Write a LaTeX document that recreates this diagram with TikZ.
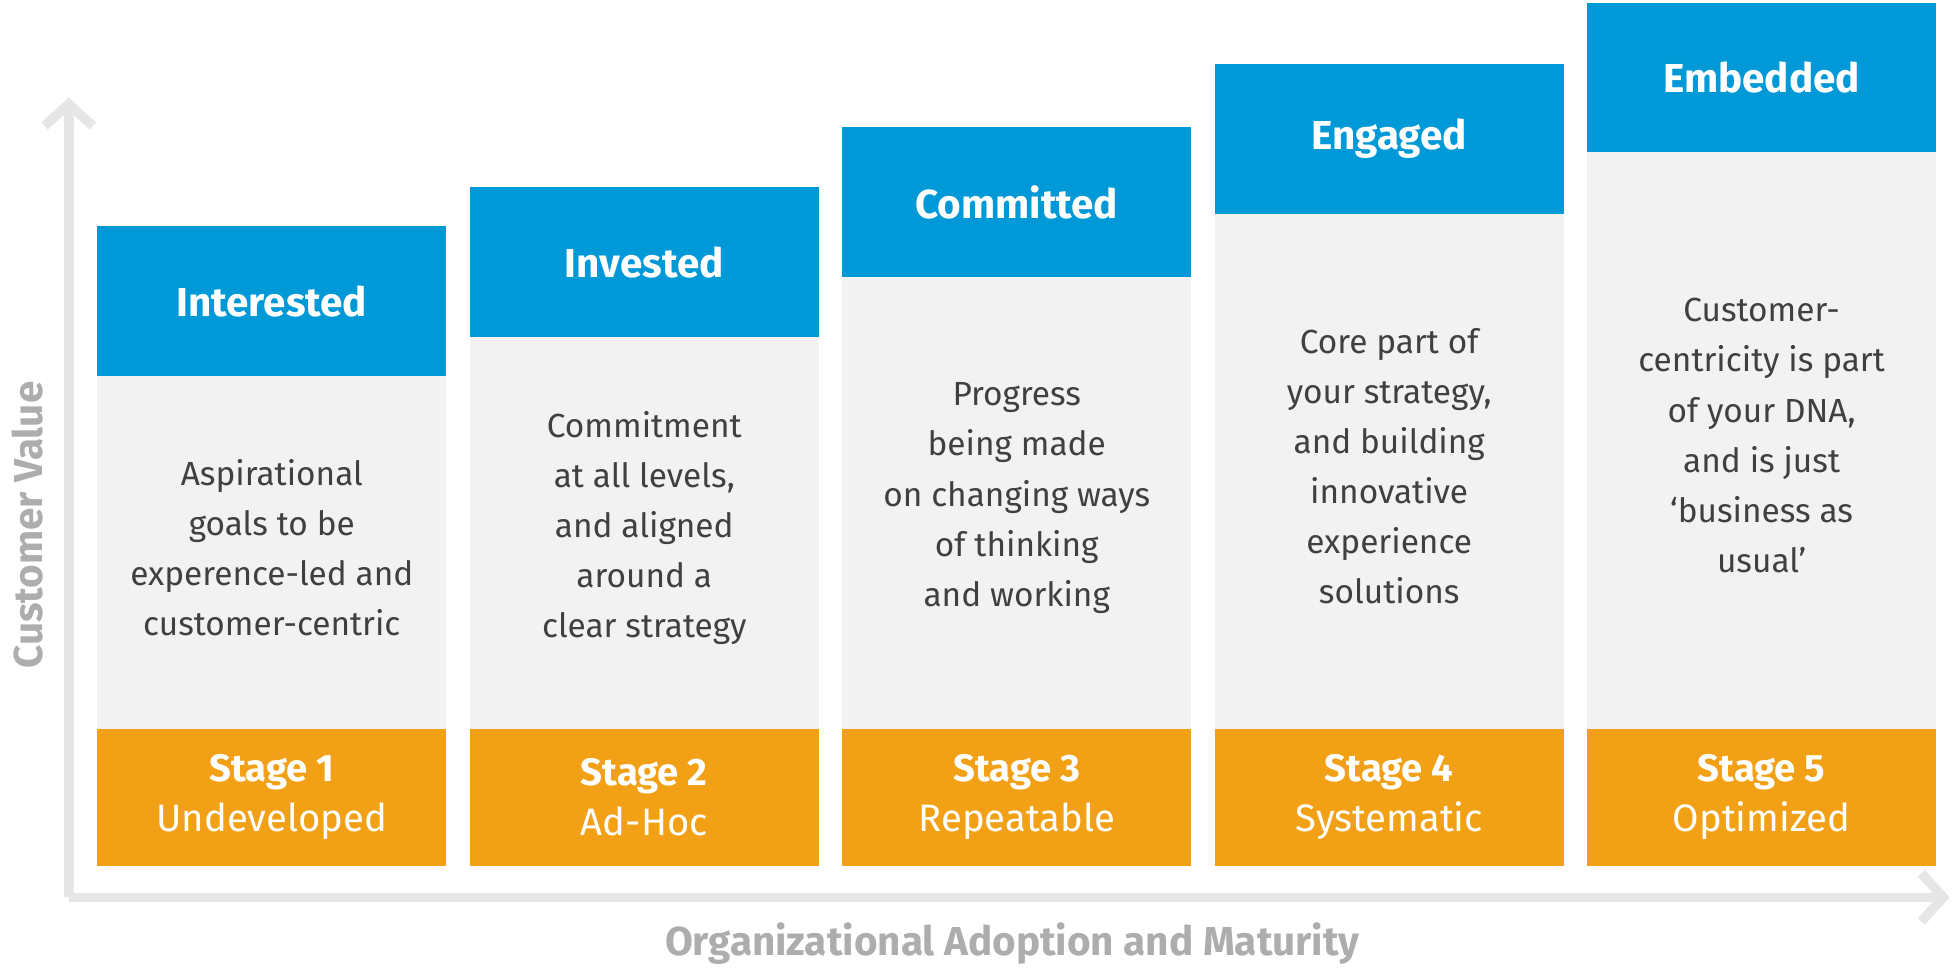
\documentclass[tikz,border=0pt]{standalone}
\usepackage{fontspec}
\setmainfont{Fira Sans}
\usetikzlibrary{arrows.meta}
\definecolor{hdblue}{HTML}{0099D8}
\definecolor{stgorange}{HTML}{F2A116}
\definecolor{bodygray}{HTML}{F2F2F2}
\definecolor{axisgray}{HTML}{E6E6E6}
\definecolor{labelgray}{HTML}{ADADAD}
\definecolor{textgray}{HTML}{404040}
\tikzset{
  header/.style={text=white, font=\fontsize{9.2}{11}\selectfont\bfseries, inner sep=0pt},
  bodytext/.style={text=textgray, align=center, font=\fontsize{7.6}{11.4}\selectfont},
  stagetext/.style={text=white, align=center, inner sep=0pt, font=\fontsize{8.7}{11.4}\selectfont},
  axis/.style={draw=axisgray, line width=2.2pt, -{Straight Barb[length=5pt,width=11pt]}},
  axislabel/.style={text=labelgray, font=\fontsize{9.2}{11}\selectfont\bfseries}
}
\begin{document}
\begin{tikzpicture}[x=0.01cm, y=-0.01cm]
  % axes
  \coordinate (O) at (55,718);
  \coordinate (ytop) at (55,78);
  \coordinate (xend) at (1560,718);
  \draw[axis] (O) -- (ytop);
  \draw[axis] (O) -- (xend);
  \node[axislabel, rotate=90] (yl) at (22,420) {Customer Value};
  \node[axislabel] (xl) at (810,755) {Organizational Adoption and Maturity};

  % stages
  \foreach \i/\x/\t/\head/\body in {
    1/78/181/Interested/{Aspirational\\goals to be\\experence-led and\\customer-centric},
    2/376/150/Invested/{Commitment\\at all levels,\\and aligned\\around a\\clear strategy},
    3/674/102/Committed/{Progress\\being made\\on changing ways\\of thinking\\and working},
    4/972/51/Engaged/{Core part of\\your strategy,\\and building\\innovative\\experience\\solutions},
    5/1270/2/Embedded/{Customer-\\centricity is part\\of your DNA,\\and is just\\‘business as\\usual’}}
  {
    \fill[bodygray] (\x,\t) rectangle (\x+279,583);
    \fill[hdblue] (\x,\t) rectangle (\x+279,\t+120);
    \node[header] (h\i) at (\x+139.5,\t+60) {\head};
    \node[bodytext] (b\i) at (\x+139.5,{(\t+120+583)/2-4}) {\body};
    \fill[stgorange] (\x,583) rectangle (\x+279,693);
  }
  \foreach \i/\x/\name in {1/78/Undeveloped, 2/376/Ad-Hoc, 3/674/Repeatable,
    4/972/Systematic, 5/1270/Optimized}
    \node[stagetext] (s\i) at (\x+139.5,638) {{\bfseries Stage \i}\\\name};

  \pgfresetboundingbox
  \path[use as bounding box] (0,0) rectangle (1565,778);
\end{tikzpicture}
\end{document}
